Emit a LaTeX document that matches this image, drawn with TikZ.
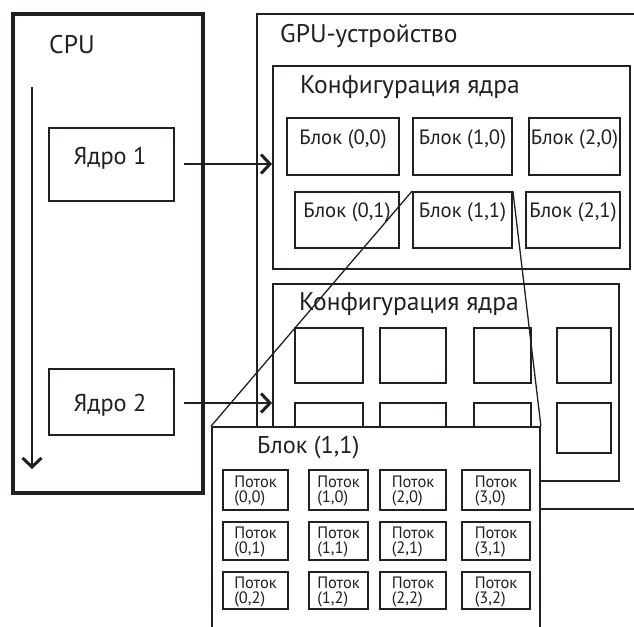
\documentclass[tikz,border=0pt]{standalone}
\usepackage{fontspec}
\setmainfont{PT Sans}
\usetikzlibrary{arrows.meta,fit}
\definecolor{ink}{RGB}{35,31,32}
\begin{document}
\begin{tikzpicture}[x=1pt,y=-1pt,
  box/.style={draw=ink, line width=1.8pt, fill=white, inner sep=0pt},
  cpubox/.style={draw=ink, line width=4pt, inner sep=0pt},
  thr/.style={draw=ink, line width=2pt, fill=white, inner sep=0pt},
  thrtxt/.style={inner sep=0pt, align=left, text=ink,
    font={\fontsize{16.5}{15}\selectfont}},
  blk/.style={box, text=ink, font={\fontsize{20.7}{24}\selectfont}},
  big/.style={text=ink, inner sep=0pt, font={\fontsize{25.5}{30}\selectfont}},
  mid/.style={big, font={\fontsize{24.3}{28}\selectfont}},
  flow/.style={draw=ink, line width=1.5pt,
    -{Straight Barb[length=9pt, width=19pt, line width=3pt]}},
  zoomline/.style={draw=ink, line width=1.3pt}]
\clip (0,0) rectangle (634,626);
\fill[white] (0,0) rectangle (634,626);

% GPU device (runs off the right edge)
\node[box, fit={(257,14)(660,509)}] (gpu) {};
\node[big, anchor=base west] (gputxt) at (280,43) {GPU-устройство};

% first kernel configuration with its grid of blocks
\node[box, fit={(273,66)(630,269)}] (cfg1) {};
\node[big, anchor=base west] (cfg1txt) at (300,93) {Конфигурация ядра};
\node[blk, fit={(287,118)(399,175)}] (b00) {Блок (0,0)};
\node[blk, fit={(413,118)(512,175)}] (b10) {Блок (1,0)};
\node[blk, fit={(529,118)(620,175)}] (b20) {Блок (2,0)};
\node[blk, fit={(295,192)(399,248)}] (b01) {Блок (0,1)};
\node[blk, fit={(413,192)(512,248)}] (b11) {Блок (1,1)};
\node[blk, fit={(526,192)(620,248)}] (b21) {Блок (2,1)};

% second kernel configuration
\node[box, fit={(273,284)(619,481)}] (cfg2) {};
\node[big, anchor=base west] (cfg2txt) at (299,310.5) {Конфигурация ядра};
\foreach \c/\xa/\xb in {0/295/363,1/380/446,2/474/531,3/557/611}
  \foreach \r/\ya/\yb in {0/328/383,1/403/453}
    \node[box, fit={(\xa,\ya)(\xb,\yb)}] (s\c\r) {};

% enlarged block (1,1) with its threads
\node[box, fit={(212,427)(540,660)}] (zoom) {};
\draw[zoomline] (b11.north west) -- (zoom.north west);
\draw[zoomline] (b11.north east) -- (zoom.north east);
\node[mid, anchor=base west] (zoomtxt) at (257,453) {Блок (1,1)};
\foreach \c/\xa/\xb in {0/223/288,1/309/368,2/380/446,3/462/530}
  \foreach \r/\ya/\yb in {0/470/510,1/522/560,2/572/609}
  {
    \node[thr, fit={(\xa,\ya)(\xb,\yb)}] (t\c\r) {};
    \node[thrtxt] (t\c\r txt) at ([yshift=-1.5pt]t\c\r.center) {Поток\\(\c,\r)};
  }

% host side
\node[cpubox, fit={(13,14)(203,493)}] (cpu) {};
\node[big, anchor=base west] (cputxt) at (49,54) {CPU};
\coordinate (flowtop) at (32,87);
\coordinate (flowend) at (32,469);
\draw[flow] (flowtop) -- (flowend);

\node[box, fit={(49,128)(174,201)}] (k1) {};
\node[mid, anchor=base] (k1txt) at (110,164) {Ядро 1};
\node[box, fit={(49,369)(174,435)}] (k2) {};
\node[mid, anchor=base] (k2txt) at (110,411) {Ядро 2};

\draw[flow] ([xshift=9pt]k1.east |- 0,164) -- (cfg1.west |- 0,164);
\draw[flow] ([xshift=9pt]k2.east |- 0,403) -- (cfg2.west |- 0,403);
\end{tikzpicture}
\end{document}
